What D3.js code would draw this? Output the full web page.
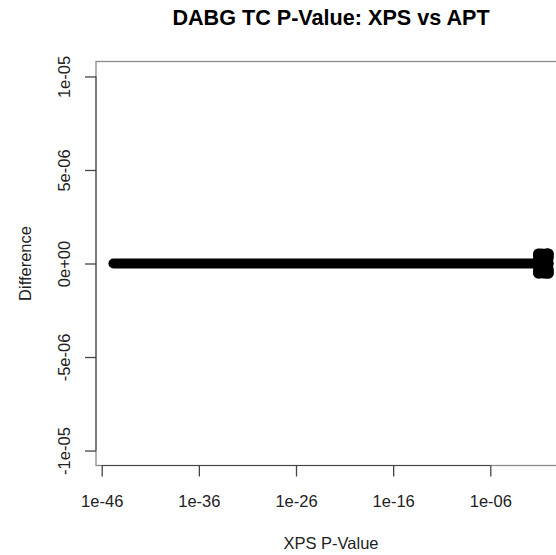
<!DOCTYPE html>
<html>
<head>
<meta charset="utf-8">
<script src="https://cdn.jsdelivr.net/npm/d3@7"></script>
<style>
  body { margin: 0; background: #fff; }
  svg { display: block; font-family: "Liberation Sans", Arial, sans-serif; }
</style>
</head>
<body>
<svg id="chart" width="556" height="555"></svg>
<script>
// dense run of points sitting on zero difference
var bandP = [1.6e-45, 1e-43, 1e-40, 1e-36, 1e-32, 1e-28, 1e-24, 1e-20, 1e-16, 1e-12, 1e-8, 1e-4, 1e-2, 0.1];
var bandDiff = [0, 0, 0, 0, 0, 0, 0, 0, 0, 0, 0, 0, 0, 0];

// cluster of points near p = 1 with small non-zero differences
var blobP =    [0.085, 0.085, 0.085, 0.085, 0.085, 0.09, 0.09, 0.12, 0.12, 0.15, 0.2, 0.2, 0.3, 0.3, 0.3, 0.3,
                0.45, 0.5, 0.5, 0.6, 0.7, 0.7, 0.7, 0.8, 0.9, 0.9, 0.95, 0.95, 1.0, 1.0, 1.0, 1.0, 1.0,
                0.12, 0.25, 0.55, 0.85, 0.4, 0.16, 0.6];
var blobDiff = [5.2e-7, -5.2e-7, 0, 4.0e-7, -4.0e-7, 2.7e-7, -2.4e-7, 5.3e-7, -5.3e-7, 4.9e-7, -5.0e-7, 5.2e-7, 5.1e-7, -5.2e-7, 2.5e-7, -2.6e-7,
                0.3e-7, 5.2e-7, -5.3e-7, -5.1e-7, 2.2e-7, -2.8e-7, 5.3e-7, 0.5e-7, 5.3e-7, -5.2e-7, 2.6e-7, -2.7e-7, 5.3e-7, -5.3e-7, 0, 3.9e-7, -4.0e-7,
                1.2e-7, -1.0e-7, -0.6e-7, 4.8e-7, -3.6e-7, 2.0e-7, 3.5e-7];

var xTicks = [1e-46, 1e-36, 1e-26, 1e-16, 1e-6];
var yTicks = [-1e-5, -5e-6, 0, 5e-6, 1e-5];
var yTickLabels = ['-1e-05', '-5e-06', '0e+00', '5e-06', '1e-05'];

var boxL = 96, boxR = 566, boxT = 61.5, boxB = 465.5;
var svg = d3.select('#chart');

// R style 4% padding on the log range of x
var allP = bandP.concat(blobP);
var lo = Math.log10(d3.min(allP)), hi = Math.log10(d3.max(allP));
var pad = (hi - lo) * 0.04;
var x = d3.scaleLog()
        .domain([Math.pow(10, lo - pad), Math.pow(10, hi + pad)])
        .range([boxL, boxR]);
var y = d3.scaleLinear()
        .domain([-1.08e-5, 1.08e-5])
        .range([boxB, boxT]);

// plot box
svg.append('rect')
    .attr('x', boxL).attr('y', boxT)
    .attr('width', boxR - boxL).attr('height', boxB - boxT)
    .style('fill', 'none')
    .style('stroke', '#8a8a8a')
    .style('stroke-width', '1.3px');

// x axis
var gx = svg.append('g')
    .attr('transform', 'translate(0,' + boxB + ')')
    .call(d3.axisBottom(x).tickValues(xTicks).tickSize(11).tickSizeOuter(0)
        .tickFormat(function(d) { return '1e-' + String(-Math.round(Math.log10(d))).padStart(2, '0'); }));
gx.select('.domain').remove();
gx.append('line')
    .attr('x1', x(xTicks[0])).attr('x2', x(xTicks[xTicks.length - 1]))
    .style('stroke', '#444');
gx.selectAll('.tick line').style('stroke', '#444').style('stroke-width', '1.3px');
gx.selectAll('.tick text')
    .attr('y', 41).attr('dy', 0)
    .style('font-size', '16.5px')
    .style('fill', '#222');

// y axis
var gy = svg.append('g')
    .attr('transform', 'translate(' + boxL + ',0)')
    .call(d3.axisLeft(y).tickValues(yTicks).tickSize(11).tickSizeOuter(0)
        .tickFormat(function(d, i) { return yTickLabels[i]; }));
gy.select('.domain').remove();
gy.append('line')
    .attr('y1', y(yTicks[0])).attr('y2', y(yTicks[yTicks.length - 1]))
    .style('stroke', '#444');
gy.selectAll('.tick line').style('stroke', '#444').style('stroke-width', '1.3px');
gy.selectAll('.tick text')
    .attr('transform', 'rotate(-90)')
    .attr('x', 0).attr('y', -26).attr('dy', 0)
    .attr('text-anchor', 'middle')
    .style('font-size', '16.5px')
    .style('fill', '#222');

// points: the long overplotted run drawn as one thick stroke, then the cluster
var lineGen = d3.line()
    .x(function(d, i) { return x(bandP[i]); })
    .y(function(d, i) { return y(bandDiff[i]); });
svg.append('path')
    .attr('d', lineGen(bandP))
    .style('fill', 'none')
    .style('stroke', 'black')
    .style('stroke-width', '10px')
    .style('stroke-linecap', 'round');
svg.selectAll('circle.blob')
    .data(blobP)
    .enter().append('circle')
    .attr('class', 'blob')
    .attr('cx', function(d) { return x(d); })
    .attr('cy', function(d, i) { return y(blobDiff[i]); })
    .attr('r', 5.2)
    .style('fill', 'black');

// titles
svg.append('text')
    .attr('x', (boxL + boxR) / 2).attr('y', 25)
    .attr('text-anchor', 'middle')
    .style('font-size', '21.6px')
    .style('font-weight', 'bold')
    .text('DABG TC P-Value: XPS vs APT');
svg.append('text')
    .attr('x', (boxL + boxR) / 2).attr('y', 549)
    .attr('text-anchor', 'middle')
    .style('font-size', '16.5px')
    .style('fill', '#222')
    .text('XPS P-Value');
svg.append('text')
    .attr('transform', 'translate(31,' + y(0) + ') rotate(-90)')
    .attr('text-anchor', 'middle')
    .style('font-size', '16.5px')
    .style('fill', '#222')
    .text('Difference');
</script>
</body>
</html>
